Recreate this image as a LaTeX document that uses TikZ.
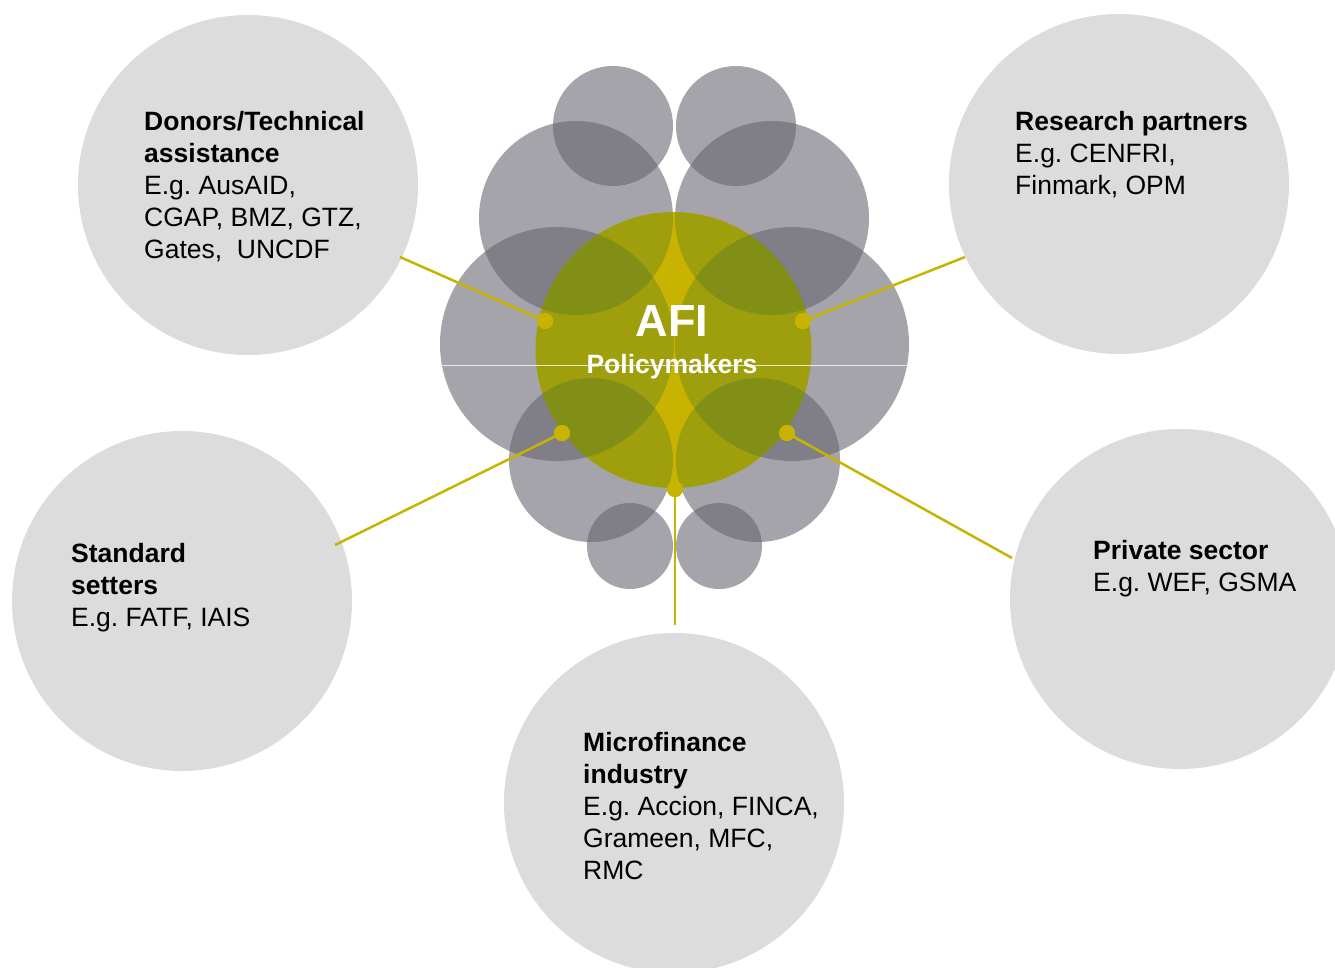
\documentclass[tikz,border=0pt]{standalone}
\usepackage{fontspec}
\setmainfont{Liberation Sans}
\frenchspacing
\definecolor{bubble}{HTML}{DCDCDC}
\definecolor{gold}{HTML}{C8B400}
\definecolor{lobe}{HTML}{66656F}
\definecolor{lobetint}{RGB}{65,110,45}
% the ten grey lobes around the hub, filled with the style given as #1
\newcommand{\drawlobes}[1]{%
  \foreach \cx/\cy/\r in {613/126/60, 736/126/60, 576/218/97, 772/218/97,
                          557/344/117, 792/344/117, 591/460/82, 758/460/82,
                          630/546/43, 719/546/43}
    {\fill[#1] (\cx,\cy) circle[radius=\r pt];}}
\begin{document}
\begin{tikzpicture}[x=1pt,y=-1pt,
  partner/.style={circle, fill=bubble, minimum size=340pt, inner sep=0pt},
  blurb/.style={anchor=north west, align=left, inner sep=0pt,
                font=\fontsize{26.5}{32}\selectfont, text=black},
  hub/.style={circle, fill=gold, minimum size=16pt, inner sep=0pt},
  link/.style={draw=gold, line width=2.5pt}]
\useasboundingbox (0,0) rectangle (1335,967);
\clip (0,0) rectangle (1335,967);

% partner groups
\node[partner] (donors)   at (248,185)  {};
\node[partner] (research) at (1119,184) {};
\node[partner] (setters)  at (182,601)  {};
\node[partner] (private)  at (1180,599) {};
\node[partner] (micro)    at (674,803)  {};

% grey lobes
\drawlobes{lobe, fill opacity=0.59}

% AFI hub disc, tinted where the lobes cover it
\node[circle, minimum size=276pt, inner sep=0pt] (afi) at (673.5,350) {};
\begin{scope}
  \clip (673.5,350) circle[radius=138pt];
  \fill[gold] (673.5,350) circle[radius=138pt];
  \drawlobes{lobetint, fill opacity=0.3}
\end{scope}

% seam across the middle lobes
\coordinate (seamL) at (442,365);
\coordinate (seamR) at (907,365);
\draw[white, line width=0.7pt, opacity=0.75] (seamL) -- (seamR);

% connectors
\coordinate (donorsEnd)   at (400,257);
\coordinate (researchEnd) at (965,257);
\coordinate (settersEnd)  at (335,545);
\coordinate (privateEnd)  at (1012,558);
\coordinate (microEnd)    at (675,625);

\node[hub] (hubDonors)   at (545,321) {};
\node[hub] (hubResearch) at (803,321) {};
\node[hub] (hubSetters)  at (562,433) {};
\node[hub] (hubPrivate)  at (787,433) {};
\node[hub] (hubMicro)    at (675,489) {};

\draw[link] (donorsEnd)   -- (hubDonors.center);
\draw[link] (researchEnd) -- (hubResearch.center);
\draw[link] (settersEnd)  -- (hubSetters.center);
\draw[link] (privateEnd)  -- (hubPrivate.center);
\draw[link] (microEnd)    -- (hubMicro.center);
\foreach \h in {hubDonors,hubResearch,hubSetters,hubPrivate,hubMicro}
  \fill[gold] (\h) circle[radius=8pt];

% hub labels
\node[anchor=base, inner sep=0pt, text=white, font=\fontsize{45}{50}\selectfont\bfseries]
  (afiTitle) at (672,336) {AFI};
\node[anchor=base, inner sep=0pt, text=white, font=\fontsize{26.5}{30}\selectfont\bfseries]
  (afiSub) at (672,373) {Policymakers};

% partner texts
\node[blurb] (donorsText) at (144,111)
  {\rule{0pt}{19pt}\textbf{Donors/Technical}\\ \textbf{assistance}\\ E.g. AusAID,\\ CGAP, BMZ, GTZ,\\ Gates,\ \ UNCDF};
\node[blurb] (researchText) at (1015,111)
  {\rule{0pt}{19pt}\textbf{Research partners}\\ E.g. CENFRI,\\ Finmark, OPM};
\node[blurb] (settersText) at (71,543)
  {\rule{0pt}{19pt}\textbf{Standard}\\ \textbf{setters}\\ E.g. FATF, IAIS};
\node[blurb] (privateText) at (1093,540)
  {\rule{0pt}{19pt}\textbf{Private sector}\\ E.g. WEF, GSMA};
\node[blurb] (microText) at (583,732)
  {\rule{0pt}{19pt}\textbf{Microfinance}\\ \textbf{industry}\\ E.g. Accion, FINCA,\\ Grameen, MFC,\\ RMC};
\end{tikzpicture}
\end{document}
